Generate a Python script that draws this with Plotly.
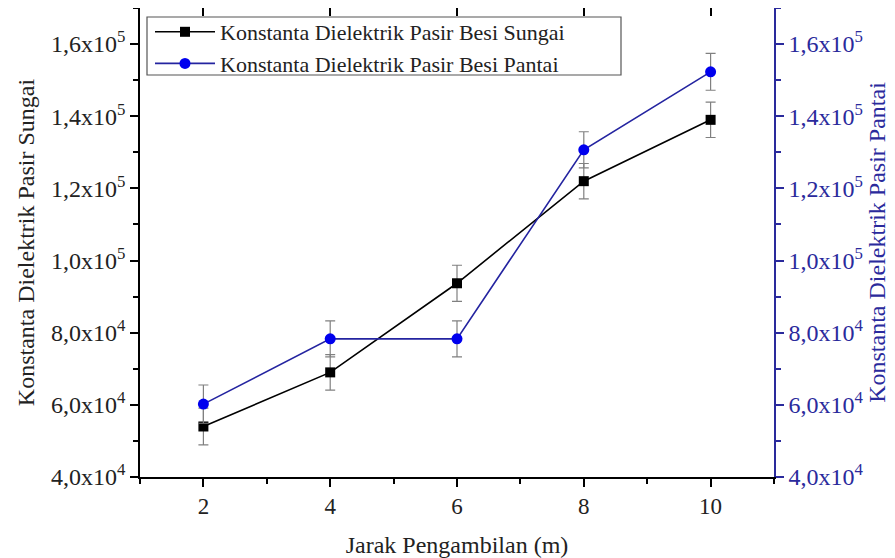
import plotly.graph_objects as go

jarak = [2, 4, 6, 8, 10]
sungai = [54000, 69000, 93700, 122000, 139000]
pantai = [60200, 78300, 78300, 130700, 152300]
err_sungai = [5100, 4900, 5000, 4900, 4900]
err_pantai = [5300, 5000, 5000, 5000, 5100]

ytick_vals = [40000, 60000, 80000, 100000, 120000, 140000, 160000]
ytick_text = ["4,0x10<sup>4</sup>", "6,0x10<sup>4</sup>", "8,0x10<sup>4</sup>",
              "1,0x10<sup>5</sup>", "1,2x10<sup>5</sup>", "1,4x10<sup>5</sup>",
              "1,6x10<sup>5</sup>"]
xtick_vals = [2, 4, 6, 8, 10]

name_sungai = "Konstanta Dielektrik Pasir Besi Sungai"
name_pantai = "Konstanta Dielektrik Pasir Besi Pantai"
xtitle = "Jarak Pengambilan (m)"
ytitle_left = "Konstanta Dielektrik Pasir Sungai"
ytitle_right = "Konstanta Dielektrik Pasir Pantai"

BLUE_LINE = "#2424a0"
BLUE_MARK = "#0000ee"
BLUE_AXIS = "#2a2a9c"
FONT = "Liberation Serif"
TXT = "#222222"

# page body has an 8px margin, so the figure is sized to fit the window
W, H = 887, 550
ML, MR, MT, MB = 132, 121, 0, 81

fig = go.Figure()
fig.add_trace(go.Scatter(
    x=jarak, y=sungai, name=name_sungai, mode="lines+markers",
    line=dict(color="black", width=1.6),
    marker=dict(symbol="square", size=10, color="black"),
    error_y=dict(type="data", array=err_sungai, visible=True,
                 color="#808080", thickness=1.2, width=5),
    yaxis="y",
))
fig.add_trace(go.Scatter(
    x=jarak, y=pantai, name=name_pantai, mode="lines+markers",
    line=dict(color=BLUE_LINE, width=1.6),
    marker=dict(symbol="circle", size=11, color=BLUE_MARK),
    error_y=dict(type="data", array=err_pantai, visible=True,
                 color="#808080", thickness=1.2, width=5),
    yaxis="y2",
))
# invisible trace to activate top mirror axis
fig.add_trace(go.Scatter(x=jarak, y=sungai, xaxis="x2", yaxis="y",
                         mode="markers", marker=dict(opacity=0),
                         showlegend=False, hoverinfo="skip"))

minor_x = dict(tickmode="linear", tick0=1, dtick=2, ticklen=5,
               tickwidth=1.5, tickcolor="black", showgrid=False)

PW = W - ML - MR
PH = H - MT - MB

def px_to_paper_x(sx):
    return (sx - 8 - ML) / PW

def px_to_paper_y(sy):
    return 1 - (sy - 8 - MT) / PH

fig.add_shape(type="rect", xref="paper", yref="paper",
              x0=px_to_paper_x(147), x1=px_to_paper_x(621),
              y0=px_to_paper_y(75), y1=px_to_paper_y(17),
              line=dict(color="#555555", width=1.2), fillcolor="rgba(0,0,0,0)",
              layer="above")

fig.update_layout(
    width=W, height=H,
    margin=dict(l=ML, r=MR, t=MT, b=MB, pad=0),
    paper_bgcolor="white", plot_bgcolor="white",
    font=dict(family=FONT, size=22, color=TXT),
    showlegend=True,
    legend=dict(x=px_to_paper_x(150), y=px_to_paper_y(11), xanchor="left", yanchor="top",
                borderwidth=0, bgcolor="rgba(0,0,0,0)",
                font=dict(family=FONT, size=22, color=TXT),
                tracegroupgap=0, itemwidth=60),
    xaxis=dict(range=[1, 11], tickmode="array", tickvals=xtick_vals,
               ticks="outside", ticklen=8, tickwidth=1.5, tickcolor="black",
               showline=True, linecolor="black", linewidth=1.6,
               showgrid=False, zeroline=False, automargin=False,
               minor=minor_x,
               tickfont=dict(size=23, color=TXT),
               title=dict(text=xtitle, font=dict(size=24, color=TXT), standoff=18)),
    xaxis2=dict(range=[1, 11], overlaying="x", side="top", anchor="y",
                tickmode="array", tickvals=xtick_vals, showticklabels=False,
                ticks="inside", ticklen=8, tickwidth=1.5, tickcolor="black",
                showline=True, linecolor="black", linewidth=1.6,
                showgrid=False, zeroline=False, automargin=False,
                minor=minor_x),
    yaxis=dict(range=[40000, 170000], tickmode="array", tickvals=ytick_vals,
               ticktext=ytick_text, ticks="outside", ticklen=8, tickwidth=1.5,
               tickcolor="black", showline=True, linecolor="black", linewidth=1.6,
               showgrid=False, zeroline=False, automargin=False,
               minor=dict(tickmode="linear", tick0=50000, dtick=20000, ticklen=5,
                          tickwidth=1.5, tickcolor="black", showgrid=False),
               tickfont=dict(size=24, color=TXT),
               title=dict(text=ytitle_left, font=dict(size=24, color=TXT), standoff=10)),
    yaxis2=dict(range=[40000, 170000], overlaying="y", side="right", anchor="x",
                tickmode="array", tickvals=ytick_vals, ticktext=ytick_text,
                ticks="outside", ticklen=8, tickwidth=1.5, tickcolor=BLUE_AXIS,
                showline=True, linecolor=BLUE_AXIS, linewidth=1.6,
                showgrid=False, zeroline=False, automargin=False,
                minor=dict(tickmode="linear", tick0=50000, dtick=20000, ticklen=5,
                           tickwidth=1.5, tickcolor=BLUE_AXIS, showgrid=False),
                tickfont=dict(size=24, color=BLUE_AXIS),
                title=dict(text=ytitle_right, font=dict(size=24, color=BLUE_AXIS), standoff=6)),
)

fig.write_html("out.html")
